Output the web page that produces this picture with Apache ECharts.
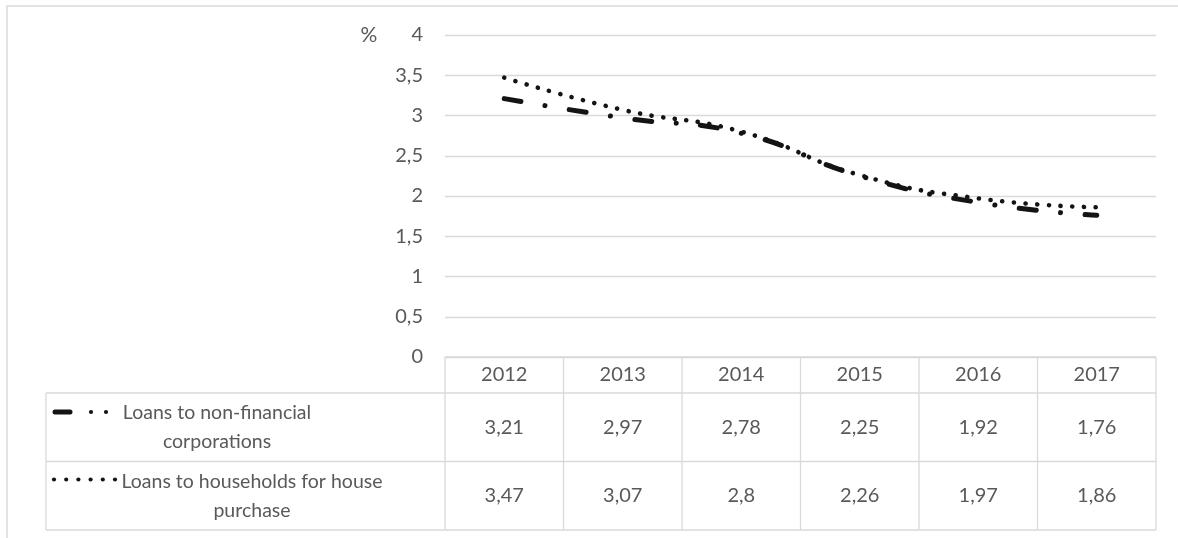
<!DOCTYPE html>
<html>
<head>
<meta charset="utf-8">
<script src="https://cdn.jsdelivr.net/npm/echarts@6/dist/echarts.min.js"></script>
<style>
html,body{margin:0;padding:0;background:#fff;}
#c{width:1178px;height:538px;}
</style>
</head>
<body>
<div id="c"></div>
<script>
const years = ['2012', '2013', '2014', '2015', '2016', '2017'];
const nonFinancial = [3.21, 2.97, 2.78, 2.25, 1.92, 1.76];
const households = [3.47, 3.07, 2.8, 2.26, 1.97, 1.86];
const seriesNames = ['Loans to non-financial corporations', 'Loans to households for house purchase'];
const rowLabels = ['Loans to non-financial\ncorporations', 'Loans to households for house\npurchase'];
const unitLabel = '%';

const FONT = 'Lato';
const GREY = '#595959';
const LINE = '#d9d9d9';
const INK = '#141414';
const fmt = v => String(v).replace('.', ',');

const chart = echarts.init(document.getElementById('c'), null, {renderer: 'canvas'});
chart.setOption({
  animation: false,
  backgroundColor: '#fff',
  grid: {left: 445, right: 22, top: 35, bottom: 181, containLabel: false},
  xAxis: {
    type: 'category', data: years, boundaryGap: true,
    axisLine: {show: false}, axisTick: {show: false}, axisLabel: {show: false}
  },
  yAxis: {
    type: 'value', min: 0, max: 4, interval: 0.5,
    axisLine: {show: false}, axisTick: {show: false},
    axisLabel: {formatter: v => fmt(v), color: GREY, fontFamily: FONT, fontSize: 20, margin: 22},
    splitLine: {lineStyle: {color: LINE, width: 1.3}}
  },
  series: [
    {
      name: seriesNames[0], type: 'line', data: nonFinancial, smooth: 0.5, symbol: 'none',
      lineStyle: {color: INK, width: 5, type: [17, 24.5, 0.1, 24.5], cap: 'round'}
    },
    {
      name: seriesNames[1], type: 'line', data: households, smooth: 0.5, symbol: 'none',
      lineStyle: {color: INK, width: 4.6, type: [0.1, 11.6], cap: 'round'}
    }
  ]
});

// Data table built from the axis scale
const c0 = chart.convertToPixel({xAxisIndex: 0}, 0);
const c1 = chart.convertToPixel({xAxisIndex: 0}, 1);
const bw = c1 - c0;
const tLeft = c0 - bw / 2;
const tRight = tLeft + bw * years.length;
const y0 = chart.convertToPixel({yAxisIndex: 0}, 0);
const headH = 36, rowH = 68.5;
const labelLeft = 46;
const g = [];
const hline = (x1, x2, y) => g.push({type: 'line', shape: {x1, y1: y, x2, y2: y}, style: {stroke: LINE, lineWidth: 1.3}, silent: true});
const vline = (x, ya, yb) => g.push({type: 'line', shape: {x1: x, y1: ya, x2: x, y2: yb}, style: {stroke: LINE, lineWidth: 1.3}, silent: true});
const txt = (x, y, s, size) => g.push({type: 'text', x, y, style: {text: s, fill: GREY, font: (size || 20) + 'px ' + FONT, textAlign: 'center', textVerticalAlign: 'middle'}, silent: true});

// outer border
g.push({type: 'rect', shape: {x: 7, y: 6, width: 1250, height: 600}, style: {fill: 'none', stroke: LINE, lineWidth: 1.5}, silent: true});

hline(tLeft, tRight, y0);
hline(labelLeft, tRight, y0 + headH);
hline(labelLeft, tRight, y0 + headH + rowH);
hline(labelLeft, tRight, y0 + headH + 2 * rowH);
vline(labelLeft, y0 + headH, y0 + headH + 2 * rowH);
for (let i = 0; i <= years.length; i++) vline(tLeft + i * bw, y0, y0 + headH + 2 * rowH);

years.forEach((yr, i) => txt(tLeft + (i + 0.5) * bw, y0 + headH / 2, yr));
[nonFinancial, households].forEach((arr, r) => {
  arr.forEach((v, i) => txt(tLeft + (i + 0.5) * bw, y0 + headH + (r + 0.5) * rowH, fmt(v)));
});

// row labels with legend keys
const rowTop1 = y0 + headH, rowTop2 = y0 + headH + rowH;
g.push({type: 'text', x: 217, y: rowTop1 + rowH / 2, style: {text: rowLabels[0], fill: GREY, font: '19.5px ' + FONT, textAlign: 'center', textVerticalAlign: 'middle', lineHeight: 29}, silent: true});
g.push({type: 'text', x: 252, y: rowTop2 + rowH / 2, style: {text: rowLabels[1], fill: GREY, font: '19.5px ' + FONT, textAlign: 'center', textVerticalAlign: 'middle', lineHeight: 29}, silent: true});
const k1 = rowTop1 + 19;
g.push({type: 'line', shape: {x1: 55, y1: k1, x2: 70, y2: k1}, style: {stroke: INK, lineWidth: 5, lineCap: 'round'}, silent: true});
g.push({type: 'circle', shape: {cx: 91, cy: k1, r: 2.1}, style: {fill: INK}, silent: true});
g.push({type: 'circle', shape: {cx: 106, cy: k1, r: 2.1}, style: {fill: INK}, silent: true});
const k2 = rowTop2 + 18;
for (let i = 0; i < 6; i++) g.push({type: 'circle', shape: {cx: 54 + i * 12.2, cy: k2, r: 2.1}, style: {fill: INK}, silent: true});

// unit label
txt(369, 35, unitLabel, 21);

chart.setOption({graphic: g});
</script>
</body>
</html>
